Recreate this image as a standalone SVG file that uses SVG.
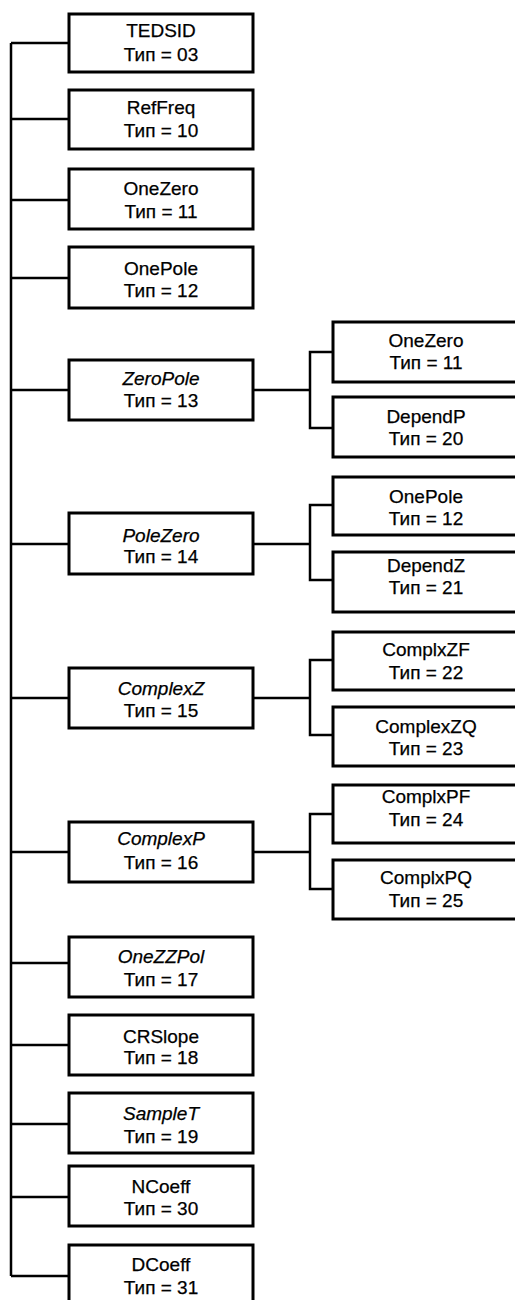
<svg xmlns="http://www.w3.org/2000/svg" width="515" height="1300" viewBox="0 0 515 1300">
<style>
.box{fill:#fff;stroke:#000;stroke-width:3}
.ln{fill:none;stroke:#000;stroke-width:2.5}
text{font-family:"Liberation Sans",Arial,sans-serif;font-size:19px;text-anchor:middle;fill:#000;stroke:#000;stroke-width:0.25}
.it{font-style:italic}
</style>
<rect width="515" height="1300" fill="#fff"/>
<g id="connectors">
<path class="ln" d="M11,43 V1276"/>
<path class="ln" d="M11,43 H69 M11,119 H69 M11,200 H69 M11,278 H69 M11,390 H69 M11,544 H69 M11,698 H69 M11,852 H69 M11,963 H69 M11,1045 H69 M11,1124 H69 M11,1197 H69 M11,1276 H69"/>
<path class="ln" d="M253,390 H310 M333,352 H310 V428 H333"/>
<path class="ln" d="M253,544 H310 M333,505 H310 V580 H333"/>
<path class="ln" d="M253,698 H310 M333,660 H310 V735 H333"/>
<path class="ln" d="M253,852 H310 M333,814 H310 V889 H333"/>
</g>
<g id="n-tedsid"><rect class="box" x="69" y="14" width="184" height="58"/><text x="161" y="37">TEDSID</text><text x="161" y="61">Тип = 03</text></g>
<g id="n-reffreq"><rect class="box" x="69" y="90" width="184" height="59"/><text x="161" y="114">RefFreq</text><text x="161" y="137">Тип = 10</text></g>
<g id="n-onezero"><rect class="box" x="69" y="169" width="184" height="60"/><text x="161" y="195">OneZero</text><text x="161" y="218">Тип = 11</text></g>
<g id="n-onepole"><rect class="box" x="69" y="247" width="184" height="61"/><text x="161" y="275">OnePole</text><text x="161" y="297">Тип = 12</text></g>
<g id="n-zeropole"><rect class="box" x="69" y="360" width="184" height="60"/><text class="it" x="161" y="385">ZeroPole</text><text x="161" y="407">Тип = 13</text></g>
<g id="n-polezero"><rect class="box" x="69" y="513" width="184" height="61"/><text class="it" x="161" y="542">PoleZero</text><text x="161" y="563">Тип = 14</text></g>
<g id="n-complexz"><rect class="box" x="69" y="668" width="184" height="60"/><text class="it" x="161" y="695">ComplexZ</text><text x="161" y="717">Тип = 15</text></g>
<g id="n-complexp"><rect class="box" x="69" y="822" width="184" height="60"/><text class="it" x="161" y="845">ComplexP</text><text x="161" y="869">Тип = 16</text></g>
<g id="n-onezzpol"><rect class="box" x="69" y="937" width="184" height="60"/><text class="it" x="161" y="963">OneZZPol</text><text x="161" y="986">Тип = 17</text></g>
<g id="n-crslope"><rect class="box" x="69" y="1015" width="184" height="60"/><text x="161" y="1043">CRSlope</text><text x="161" y="1064">Тип = 18</text></g>
<g id="n-samplet"><rect class="box" x="69" y="1093" width="184" height="60"/><text class="it" x="161" y="1120">SampleT</text><text x="161" y="1143">Тип = 19</text></g>
<g id="n-ncoeff"><rect class="box" x="69" y="1166" width="184" height="60"/><text x="161" y="1193">NCoeff</text><text x="161" y="1215">Тип = 30</text></g>
<g id="n-dcoeff"><rect class="box" x="69" y="1245" width="184" height="70"/><text x="161" y="1271">DCoeff</text><text x="161" y="1294">Тип = 31</text></g>
<g id="r-onezero"><rect class="box" x="333" y="322" width="190" height="60"/><text x="426" y="347">OneZero</text><text x="426" y="369">Тип = 11</text></g>
<g id="r-dependp"><rect class="box" x="333" y="397" width="190" height="60"/><text x="426" y="423">DependP</text><text x="426" y="445">Тип = 20</text></g>
<g id="r-onepole"><rect class="box" x="333" y="477" width="190" height="58"/><text x="426" y="503">OnePole</text><text x="426" y="525">Тип = 12</text></g>
<g id="r-dependz"><rect class="box" x="333" y="552" width="190" height="60"/><text x="426" y="572">DependZ</text><text x="426" y="594">Тип = 21</text></g>
<g id="r-complxzf"><rect class="box" x="333" y="632" width="190" height="58"/><text x="426" y="656">ComplxZF</text><text x="426" y="679">Тип = 22</text></g>
<g id="r-complexzq"><rect class="box" x="333" y="707" width="190" height="59"/><text x="426" y="733">ComplexZQ</text><text x="426" y="755">Тип = 23</text></g>
<g id="r-complxpf"><rect class="box" x="333" y="785" width="190" height="58"/><text x="426" y="803">ComplxPF</text><text x="426" y="826">Тип = 24</text></g>
<g id="r-complxpq"><rect class="box" x="333" y="860" width="190" height="59"/><text x="426" y="884">ComplxPQ</text><text x="426" y="907">Тип = 25</text></g>
</svg>
